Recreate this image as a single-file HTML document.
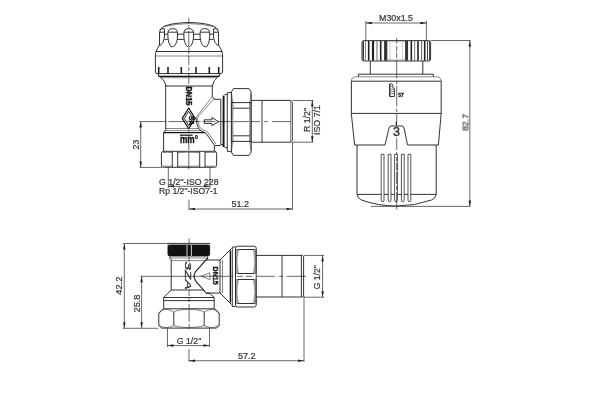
<!DOCTYPE html>
<html><head><meta charset="utf-8"><title>Valve drawing</title>
<style>
html,body{margin:0;padding:0;background:#fff;}
body{width:600px;height:400px;overflow:hidden;}
svg{display:block}
svg line,svg path,svg rect,svg circle,svg ellipse,svg polyline{fill:none;stroke:#1c1c1c;stroke-width:.9;stroke-linecap:butt;stroke-linejoin:round}
svg .h{stroke:#111;stroke-width:1.2}
svg .d{stroke:#2a2a2a;stroke-width:.7}
svg .c{stroke:#2a2a2a;stroke-width:.7;stroke-dasharray:16 2.5 3 2.5}
svg .t{stroke-width:.6;stroke:#333}
svg .f{stroke-width:.5;stroke:#999}
svg .k{fill:#111;stroke:#111}
svg .w{stroke:#fff;stroke-width:.8}
svg .ah{fill:#222;stroke:none}
svg .tx{opacity:.999}
svg text{font-family:"Liberation Sans",sans-serif;fill:#333;stroke:#333;stroke-width:.2}
svg .b{font-weight:bold;fill:#111;stroke:#111;stroke-width:.35}
svg .bi{font-style:italic;fill:#333;stroke:#333;stroke-width:.3}
</style></head><body>
<svg width="600" height="400" viewBox="0 0 600 400">
<path d="M188.8,17.9 L188.8,23.5 M188.8,25 L188.8,29 M188.8,31.4 L188.8,46 M188.8,48 L188.8,54 M188.8,55.5 L188.8,65 M188.8,67 L188.8,71 M188.8,73 L188.8,84 M188.8,86 L188.8,106 M188.8,130 L188.8,133 M188.8,135 L188.8,137 M188.8,139 L188.8,150 M188.8,152 L188.8,169.3" class="d"/>
<line x1="139.5" y1="121.6" x2="231" y2="121.6" class="d" stroke-dasharray="27 2 16 2 14 2 13 2"/>
<path d="M232,121.6 L260,121.6 M264,121.6 L268,121.6 M272,121.6 L290.5,121.6" class="d"/>
<path d="M159.5,45 L159.5,33 Q159.6,29.6 162,27.6 Q165,25.3 172,24 Q180,22.6 189,22.5 Q198,22.6 206,24 Q213,25.3 216,27.6 Q218.4,29.6 218.5,33 L218.5,45"/>
<path d="M164.5,26.6 Q176,23.6 189,23.6 Q202,23.6 213.5,26.6" class="t"/>
<path d="M159.5,45 Q157.5,48 156,51.5 M218.5,45 Q220.5,48 222,51.5"/>
<path d="M167.89999999999998,33 Q167.89999999999998,28.6 172.7,28.6 Q177.5,28.6 177.5,33 L177.5,37 Q177.0,44 173.6,46.4 Q172.1,47.4 170.6,46.4 Q168.39999999999998,44 167.89999999999998,37 Z"/>
<path d="M168.2,32.2 L177.2,32.2"/>
<path d="M183.89999999999998,33 Q183.89999999999998,28.6 188.7,28.6 Q193.5,28.6 193.5,33 L193.5,37 Q193.0,44 190.2,46.4 Q188.7,47.4 187.2,46.4 Q184.39999999999998,44 183.89999999999998,37 Z"/>
<path d="M184.2,32.2 L193.2,32.2"/>
<path d="M200.1,33 Q200.1,28.6 204.9,28.6 Q209.70000000000002,28.6 209.70000000000002,33 L209.70000000000002,37 Q209.20000000000002,44 207.0,46.4 Q205.5,47.4 204.0,46.4 Q200.6,44 200.1,37 Z"/>
<path d="M200.4,32.2 L209.4,32.2"/>
<path d="M159.8,30 Q160.5,28.8 162,28.7 L164.4,28.8 L164.5,37 Q164,43 159.8,46"/>
<path d="M218.2,30 Q217.5,28.8 216,28.7 L213.6,28.8 L213.5,37 Q214,43 218.2,46"/>
<line x1="160" y1="32.2" x2="164.4" y2="32.2"/>
<line x1="213.6" y1="32.2" x2="218" y2="32.2"/>
<line x1="164.5" y1="34.2" x2="167.9" y2="34.2"/>
<line x1="164.5" y1="39.4" x2="167.9" y2="39.4"/>
<line x1="177.5" y1="34.2" x2="183.9" y2="34.2"/>
<line x1="177.5" y1="39.4" x2="183.9" y2="39.4"/>
<line x1="193.5" y1="34.2" x2="200.1" y2="34.2"/>
<line x1="193.5" y1="39.4" x2="200.1" y2="39.4"/>
<line x1="209.7" y1="34.2" x2="213.5" y2="34.2"/>
<line x1="209.7" y1="39.4" x2="213.5" y2="39.4"/>
<line x1="156" y1="51.5" x2="222" y2="51.5"/>
<line x1="155.5" y1="56" x2="222.5" y2="56" class='t'/>
<path d="M156,51.5 Q155.4,53 155.4,56 L155.4,72 M222,51.5 Q222.6,53 222.6,56 L222.6,72"/>
<path d="M155.5,72 Q155.6,73.6 157,73.6 L221,73.6 Q222.4,73.6 222.5,72"/>
<line x1="158.7" y1="67" x2="158.7" y2="73.4" style="stroke-width:1.5;stroke:#111"/>
<line x1="168" y1="67" x2="168" y2="73.4" style="stroke-width:1.5;stroke:#111"/>
<line x1="181.3" y1="67" x2="181.3" y2="73.4" style="stroke-width:1.5;stroke:#111"/>
<line x1="196" y1="67" x2="196" y2="73.4" style="stroke-width:1.5;stroke:#111"/>
<line x1="209.3" y1="67" x2="209.3" y2="73.4" style="stroke-width:1.5;stroke:#111"/>
<line x1="218.7" y1="67" x2="218.7" y2="73.4" style="stroke-width:1.5;stroke:#111"/>
<line x1="158.6" y1="76.3" x2="219.4" y2="76.3" class='h'/>
<path d="M158.6,73.6 L158.6,76.3 M159.5,76.3 Q164.5,79.5 166,85.7 M219.4,73.6 L219.4,76.3 M218.5,76.3 Q213.5,79.5 212.5,85.7"/>
<line x1="161" y1="77.7" x2="217" y2="77.7" class='t'/>
<line x1="165.7" y1="85" x2="165.7" y2="129.3"/>
<line x1="212.3" y1="85" x2="212.3" y2="96.5"/>
<line x1="165.7" y1="86" x2="212.3" y2="86"/>
<line x1="165.7" y1="128.5" x2="199" y2="128.5" class='t'/>
<path d="M212.3,96.5 L214.3,99.3 L220.8,99.3"/>
<path d="M212.3,96.7 L196,117.4 M214,98.6 L197.4,117.6" class="t"/>
<path d="M196,117.4 Q196.4,124 198.6,128.6 Q200.5,131.4 205.7,133 L214.6,145.5 L220.8,145.5"/>
<path d="M197.4,117.6 Q197.8,123.5 200,127.6 Q202,130 207,131.4 L216,144" class="t"/>
<path d="M165.7,129.3 L165.7,130.6 Q164,131 163.6,132.6 L163.6,151.3"/>
<line x1="163.6" y1="132.6" x2="205" y2="132.6" class='h'/>
<line x1="164.8" y1="130.6" x2="201.5" y2="130.6" class='t'/>
<line x1="214.3" y1="145.5" x2="214.3" y2="151.3"/>
<path d="M204.4,119.8 L211.8,119.8 L211.8,117.6 L218.6,121.6 L211.8,125.7 L211.8,123.4 L204.4,123.4 Z"/>
<path d="M188.7,108 L195,118.4 L188.7,128.8 L182.3,118.4 Z" class="h"/>
<path d="M188.7,111.2 L193,118.4 L188.7,125.6 L184.4,118.4 Z"/>
<line x1="180" y1="135.2" x2="192.6" y2="135.2" class='h'/>
<line x1="220.8" y1="99.3" x2="220.8" y2="144.6"/>
<line x1="220.8" y1="144.6" x2="223" y2="144.6"/>
<line x1="223.6" y1="95.6" x2="223.6" y2="147" style="stroke:#111;stroke-width:1.9"/>
<path d="M224.5,94.6 L227.3,94.6 L227.3,151.4 L231.4,151.4 M227.3,92.6 L231.4,92.6 M227.3,92.6 L227.3,94.6 M224.5,147.6 L227.3,147.6"/>
<path d="M231.4,102.6 L233.2,102.6 Q232.4,122 233.2,141.4 L231.4,141.4 Z M251.2,102.6 L249.4,102.6 Q250.2,122 249.4,141.4 L251.2,141.4 Z" style="fill:#aaa;stroke:#555;stroke-width:.5"/>
<path d="M233.4,88.6 L249,88.6 L251.2,92 L251.2,152 L249,155.4 L233.4,155.4 L231.4,152 L231.4,92 Z"/>
<path d="M231.6,93 Q231.8,98 233,102.6 M251,93 Q250.8,98 249.6,102.6 M231.6,151 Q231.8,146 233,141.4 M251,151 Q250.8,146 249.6,141.4" class="t"/>
<line x1="231.4" y1="102.6" x2="251.2" y2="102.6"/>
<line x1="231.4" y1="141.4" x2="251.2" y2="141.4"/>
<line x1="233" y1="108.2" x2="249.4" y2="108.2"/>
<line x1="233" y1="135.8" x2="249.4" y2="135.8"/>
<path d="M251.2,100.4 L290.6,100.4 L292.3,102 L292.3,140.6 L290.6,142.2 L251.2,142.2"/>
<line x1="262" y1="100.4" x2="262" y2="142.2"/>
<line x1="290.6" y1="100.4" x2="290.6" y2="142.2" class='t'/>
<line x1="292.5" y1="100.5" x2="313.5" y2="100.5" class='d'/>
<line x1="292.5" y1="142.2" x2="313.5" y2="142.2" class='d'/>
<line x1="312.3" y1="100.5" x2="312.3" y2="142.2" class='d'/>
<polygon class="ah" points="312.3,100.5 311.05,106.5 313.55,106.5"/>
<polygon class="ah" points="312.3,142.2 311.05,136.2 313.55,136.2"/>
<path d="M163.6,151.3 L214.4,151.3 Q216.6,151.3 216.6,153.5 L216.6,165.1 Q216.6,167.3 214.4,167.3 L163.6,167.3 Q161.4,167.3 161.4,165.1 L161.4,153.5 Q161.4,151.3 163.6,151.3 Z"/>
<line x1="172.3" y1="151.3" x2="172.3" y2="167.3"/>
<line x1="177.7" y1="151.3" x2="177.7" y2="167.3"/>
<line x1="199.7" y1="151.3" x2="199.7" y2="167.3"/>
<line x1="205" y1="151.3" x2="205" y2="167.3"/>
<path d="M163,152.6 Q167,152 172.3,152.6 M177.7,152.6 Q188,151.8 199.7,152.6 M205,152.6 Q210,152 215,152.6" class="t"/>
<path d="M163,166 Q167,166.6 172.3,166 M177.7,166 Q188,166.8 199.7,166 M205,166 Q210,166.6 215,166" class="t"/>
<line x1="139.5" y1="167.4" x2="162" y2="167.4" class='d'/>
<line x1="140.7" y1="121.6" x2="140.7" y2="167.4" class='d'/>
<polygon class="ah" points="140.7,121.6 139.45,127.6 141.95,127.6"/>
<polygon class="ah" points="140.7,167.4 139.45,161.4 141.95,161.4"/>
<line x1="168.3" y1="167" x2="168.3" y2="188" class='d'/>
<line x1="210" y1="167" x2="210" y2="188" class='d'/>
<line x1="168" y1="186.3" x2="210" y2="186.3" class='d'/>
<polygon class="ah" points="168,186.3 174,185.05 174,187.55"/>
<polygon class="ah" points="210,186.3 204,185.05 204,187.55"/>
<line x1="189" y1="199.7" x2="189" y2="210" class='d'/>
<line x1="292.5" y1="142" x2="292.5" y2="210" class='d'/>
<line x1="189" y1="209" x2="292.5" y2="209" class='d'/>
<polygon class="ah" points="189,209 195,207.75 195,210.25"/>
<polygon class="ah" points="292.5,209 286.5,207.75 286.5,210.25"/>
<line x1="365.8" y1="21" x2="365.8" y2="40.5" class='d'/>
<line x1="426.4" y1="21" x2="426.4" y2="40.5" class='d'/>
<line x1="365.8" y1="23" x2="426.4" y2="23" class='d'/>
<polygon class="ah" points="365.8,23 371.8,21.75 371.8,24.25"/>
<polygon class="ah" points="426.4,23 420.4,21.75 420.4,24.25"/>
<line x1="363.3" y1="41" x2="363.3" y2="60.6" style="stroke:#222;stroke-width:1.2"/>
<line x1="365.5" y1="41" x2="365.5" y2="60.6" style="stroke:#555;stroke-width:0.7"/>
<line x1="368.7" y1="41" x2="368.7" y2="60.6" style="stroke:#222;stroke-width:1.6"/>
<line x1="373" y1="41" x2="373" y2="60.6" style="stroke:#222;stroke-width:2.2"/>
<line x1="377" y1="41" x2="377" y2="60.6" style="stroke:#555;stroke-width:0.9"/>
<line x1="380.7" y1="41" x2="380.7" y2="60.6" style="stroke:#222;stroke-width:1.6"/>
<line x1="385.7" y1="41" x2="385.7" y2="60.6" style="stroke:#333;stroke-width:3.2"/>
<line x1="406.6" y1="41" x2="406.6" y2="60.6" style="stroke:#333;stroke-width:3.0"/>
<line x1="411.3" y1="41" x2="411.3" y2="60.6" style="stroke:#222;stroke-width:1.6"/>
<line x1="414.7" y1="41" x2="414.7" y2="60.6" style="stroke:#555;stroke-width:0.8"/>
<line x1="418" y1="41" x2="418" y2="60.6" style="stroke:#222;stroke-width:1.6"/>
<line x1="421.6" y1="41" x2="421.6" y2="60.6" style="stroke:#555;stroke-width:0.9"/>
<line x1="424.7" y1="41" x2="424.7" y2="60.6" style="stroke:#222;stroke-width:1.6"/>
<line x1="427.5" y1="41" x2="427.5" y2="60.6" style="stroke:#333;stroke-width:0.9"/>
<line x1="429.5" y1="41" x2="429.5" y2="60.6" style="stroke:#333;stroke-width:0.9"/>
<line x1="390" y1="42" x2="390" y2="59.6" class='f'/>
<line x1="402.3" y1="42" x2="402.3" y2="59.6" class='f'/>
<line x1="388" y1="41.8" x2="405" y2="41.8" class='f'/>
<line x1="388" y1="59.4" x2="405" y2="59.4" class='f'/>
<path d="M364,40.6 L428.6,40.6 Q430.6,40.6 430.6,42.6 L430.6,59 Q430.6,61 428.6,61 L364,61 Q362,61 362,59 L362,42.6 Q362,40.6 364,40.6 Z"/>
<line x1="370.3" y1="61.2" x2="370.3" y2="74.2"/>
<line x1="422.8" y1="61.2" x2="422.8" y2="74.2"/>
<path d="M358.5,76.7 L358.5,74.2 L433.3,74.2 L433.3,76.7"/>
<path d="M351.4,113.4 L351.4,81.2 M441.2,81.2 L441.2,113.4"/>
<path d="M351.4,81.2 Q351.6,76.8 356,76.8 L436.6,76.8 Q441,76.8 441.2,81.2" class="t"/>
<line x1="351.3" y1="81.2" x2="441.2" y2="81.2"/>
<line x1="351.3" y1="113.4" x2="441.2" y2="113.4"/>
<path d="M351.3,113.4 L354.6,145 L385,145 L389,128 Q389.5,126 391.5,126 L401.5,126 Q403.5,126 404,128 L407.6,145 L438.4,145 L441.2,113.4"/>
<line x1="396.4" y1="121.5" x2="396.4" y2="125.5" style="stroke-width:1.3"/>
<line x1="389.8" y1="84" x2="389.8" y2="96.8" style="stroke:#111;stroke-width:1.3"/>
<path d="M389.8,84 L391.6,83.8 Q392.8,84 392.8,85.6 L392.8,87.6 L394.4,88.6 L394.4,96.4 L389.8,96.6"/>
<path d="M391,86.4 L392.6,86.4 M391,89.2 L394,89.2 M391,91.4 L394,91.4 M391,93.6 L394,93.6" class="t"/>
<path d="M357,145 L357,194.4 Q357.6,198.6 361.5,200 Q378,206 396.6,206 Q415,206 431.5,200 Q435.6,198.6 436.2,194.4 L436.2,145"/>
<line x1="357" y1="194.4" x2="436.2" y2="194.4"/>
<path d="M381.20000000000005,154.3 L381.20000000000005,200 Q381.20000000000005,201.8 382.6,201.8 Q384.0,201.8 384.0,200 L384.0,154.3 Z" style="fill:#fff;stroke-width:.75"/>
<path d="M388.20000000000005,154.3 L388.20000000000005,200 Q388.20000000000005,201.8 389.6,201.8 Q391.0,201.8 391.0,200 L391.0,154.3 Z" style="fill:#fff;stroke-width:.75"/>
<path d="M394.6,154.3 L394.6,200 Q394.6,201.8 396,201.8 Q397.4,201.8 397.4,200 L397.4,154.3 Z" style="fill:#fff;stroke-width:.75"/>
<path d="M401.40000000000003,154.3 L401.40000000000003,200 Q401.40000000000003,201.8 402.8,201.8 Q404.2,201.8 404.2,200 L404.2,154.3 Z" style="fill:#fff;stroke-width:.75"/>
<path d="M408.0,154.3 L408.0,200 Q408.0,201.8 409.4,201.8 Q410.79999999999995,201.8 410.79999999999995,200 L410.79999999999995,154.3 Z" style="fill:#fff;stroke-width:.75"/>
<path d="M396.7,37.9 L396.7,43.5 M396.7,45.8 L396.7,51.4 M396.7,52.5 L396.7,58 M396.7,60 L396.7,78 M396.7,80.7 L396.7,84 M396.7,85.5 L396.7,106.5 M396.7,108.5 L396.7,112 M396.7,114 L396.7,121.5 M396.7,138 L396.7,150 M396.7,152 L396.7,155 M396.7,157 L396.7,161 M396.7,163 L396.7,170 M396.7,172 L396.7,184 M396.7,186 L396.7,190 M396.7,192 L396.7,209.5" class="d"/>
<line x1="430.6" y1="40.5" x2="470.5" y2="40.5" class='d'/>
<line x1="371" y1="206.4" x2="470.5" y2="206.4" class='d'/>
<line x1="469.8" y1="40.5" x2="469.8" y2="206.4" class='d'/>
<polygon class="ah" points="469.8,40.5 468.55,46.5 471.05,46.5"/>
<polygon class="ah" points="469.8,206.4 468.55,200.4 471.05,200.4"/>
<path d="M189.1,238.5 L189.1,243.4 M189.1,257 L189.1,262 M189.1,264 L189.1,268 M189.1,290 L189.1,296 M189.1,298 L189.1,302 M189.1,304 L189.1,322 M189.1,324 L189.1,329" class="d"/>
<line x1="140.5" y1="276.3" x2="233" y2="276.3" class='d'/>
<path d="M237,276.3 L243,276.3 M246,276.3 L252,276.3 M256.5,276.3 L275,276.3 M279,276.3 L283,276.3 M286.5,276.3 L306,276.3" class="d"/>
<path d="M169.8,245 L207.8,245 Q209.6,245 209.6,246.8 L209.6,254.2 Q209.6,256 207.8,256 L169.8,256 Q168,256 168,254.2 L168,246.8 Q168,245 169.8,245 Z" class="k"/>
<line x1="187" y1="245" x2="187" y2="256" class='w'/>
<line x1="191.4" y1="245" x2="191.4" y2="256" class='w'/>
<line x1="168" y1="243.4" x2="209.8" y2="243.4"/>
<path d="M168,243.4 L168,246 M209.8,243.4 L209.8,246" class="t"/>
<line x1="169.5" y1="258" x2="208" y2="258" class='t'/>
<line x1="170" y1="256.6" x2="170" y2="259"/>
<line x1="207.6" y1="256.6" x2="207.6" y2="259.6"/>
<line x1="171.2" y1="259" x2="171.2" y2="290"/>
<line x1="171.2" y1="260.6" x2="207" y2="260.6" class='t'/>
<line x1="171.2" y1="290" x2="204" y2="290"/>
<path d="M171.2,290 L163.7,297.5 L163.7,308.8"/>
<path d="M207,293 L210,293.6 L214.2,297.5 L214.2,308.8"/>
<line x1="163.7" y1="297.5" x2="214.2" y2="297.5"/>
<line x1="163.7" y1="300.6" x2="214.2" y2="300.6"/>
<path d="M207,258.6 L198.6,268.4 Q189.6,276.3 198.6,284.4 L207,294" style="stroke-width:1.1"/>
<path d="M207,260 L220,260 M207,293 L220,293"/>
<path d="M201,276.2 L209.9,272.8 L209.9,279.6 Z" class="t"/>
<path d="M220,260 L231.6,248.4 M220,293 L231.6,304.6"/>
<line x1="220" y1="260" x2="220" y2="293"/>
<line x1="222.5" y1="260" x2="222.5" y2="293" class='t'/>
<line x1="230.4" y1="250.6" x2="230.4" y2="302.4" style="stroke:#111;stroke-width:1.4"/>
<path d="M232.3,247 L232.3,306.5 L235.5,306.5 M232.3,247 L235.5,247"/>
<path d="M235.5,249.5 L238.5,249.5 Q235.4,261.5 238.5,273.5 L235.5,273.5 Z M256.2,249.5 L253.5,249.5 Q256.4,261.5 253.5,273.5 L256.2,273.5 Z M235.5,279.5 L238.5,279.5 Q235.4,291.5 238.5,303.5 L235.5,303.5 Z M256.2,279.5 L253.5,279.5 Q256.4,291.5 253.5,303.5 L256.2,303.5 Z" style="fill:#aaa;stroke:#444;stroke-width:.5"/>
<path d="M237.5,246.2 L254.2,246.2 Q256.2,246.2 256.2,248.2 L256.2,305 Q256.2,307 254.2,307 L237.5,307 Q235.5,307 235.5,305 L235.5,248.2 Q235.5,246.2 237.5,246.2 Z"/>
<line x1="238" y1="249.5" x2="254" y2="249.5"/>
<line x1="238" y1="273.5" x2="254" y2="273.5"/>
<line x1="238" y1="279.5" x2="254" y2="279.5"/>
<line x1="238" y1="303.5" x2="254" y2="303.5"/>
<path d="M256.2,255.4 L302.6,255.4 L303.6,256.4 L303.6,296 L302.6,297 L256.2,297"/>
<line x1="282" y1="255.4" x2="282" y2="297"/>
<line x1="301.4" y1="255.4" x2="301.4" y2="297"/>
<line x1="304" y1="255.4" x2="324" y2="255.4" class='d'/>
<line x1="304" y1="297.2" x2="324" y2="297.2" class='d'/>
<line x1="322.6" y1="255.4" x2="322.6" y2="297.2" class='d'/>
<polygon class="ah" points="322.6,255.4 321.35,261.4 323.85,261.4"/>
<polygon class="ah" points="322.6,297.2 321.35,291.2 323.85,291.2"/>
<path d="M163.2,308.8 L214.8,308.8 L219.2,313 L219.2,325.4 L216.6,328.1 L161.4,328.1 L158.8,325.4 L158.8,313 Z"/>
<path d="M158.8,313.4 Q162,309.6 166,309.2 Q170,309.6 173.8,312 Q179,309.4 188.8,309.2 Q199,309.4 204.2,312 Q208,309.6 212,309.2 Q216,309.6 219.2,313.4" class="t"/>
<path d="M158.8,325 Q162,327.4 166,327.7 Q170,327.4 173.8,325.6 Q179,327.5 188.8,327.7 Q199,327.5 204.2,325.6 Q208,327.4 212,327.7 Q216,327.4 219.2,325" class="t"/>
<line x1="173.8" y1="312" x2="173.8" y2="325.6"/>
<line x1="204.2" y1="312" x2="204.2" y2="325.6"/>
<line x1="123" y1="243.5" x2="168" y2="243.5" class='d'/>
<line x1="123" y1="328.3" x2="158.5" y2="328.3" class='d'/>
<line x1="124.3" y1="243.5" x2="124.3" y2="328.3" class='d'/>
<polygon class="ah" points="124.3,243.5 123.05,249.5 125.55,249.5"/>
<polygon class="ah" points="124.3,328.3 123.05,322.3 125.55,322.3"/>
<line x1="141.6" y1="276.3" x2="141.6" y2="328.3" class='d'/>
<polygon class="ah" points="141.6,276.3 140.35,282.3 142.85,282.3"/>
<polygon class="ah" points="141.6,328.3 140.35,322.3 142.85,322.3"/>
<line x1="167.5" y1="328.3" x2="167.5" y2="347" class='d'/>
<line x1="209.5" y1="328.3" x2="209.5" y2="347" class='d'/>
<line x1="167.5" y1="345.6" x2="209.5" y2="345.6" class='d'/>
<polygon class="ah" points="167.5,345.6 173.5,344.35 173.5,346.85"/>
<polygon class="ah" points="209.5,345.6 203.5,344.35 203.5,346.85"/>
<line x1="189" y1="349" x2="189" y2="362" class='d'/>
<line x1="304" y1="296" x2="304" y2="362" class='d'/>
<line x1="189" y1="360.7" x2="304" y2="360.7" class='d'/>
<polygon class="ah" points="189,360.7 195,359.45 195,361.95"/>
<polygon class="ah" points="304,360.7 298,359.45 298,361.95"/>
<g class="tx">
<text x="188.7" y="120.6" font-size="6.5" text-anchor="middle" transform="rotate(90 188.7 120.6)" class="b">SA</text>
<text x="185.6" y="96" font-size="8.4" text-anchor="middle" transform="rotate(90 185.6 96)" class="b" textLength="19" lengthAdjust="spacingAndGlyphs">DN15</text>
<text x="189" y="142.5" font-size="11" text-anchor="middle" class="b" textLength="18" lengthAdjust="spacingAndGlyphs">mm°</text>
<text x="310.2" y="120" font-size="8.3" text-anchor="middle" transform="rotate(-90 310.2 120)" textLength="24" lengthAdjust="spacingAndGlyphs">R 1/2&quot;</text>
<text x="320.3" y="120" font-size="8.3" text-anchor="middle" transform="rotate(-90 320.3 120)" textLength="30" lengthAdjust="spacingAndGlyphs">ISO 7/1</text>
<text x="139" y="144.6" font-size="8.3" text-anchor="middle" transform="rotate(-90 139 144.6)" textLength="9.8" lengthAdjust="spacingAndGlyphs">23</text>
<text x="188.8" y="184.7" font-size="8.3" text-anchor="middle" textLength="59.5" lengthAdjust="spacingAndGlyphs">G 1/2&quot;-ISO 228</text>
<text x="188.3" y="194.2" font-size="8.3" text-anchor="middle" textLength="58.5" lengthAdjust="spacingAndGlyphs">Rp 1/2&quot;-ISO7-1</text>
<text x="240.3" y="207" font-size="8.3" text-anchor="middle" textLength="17.6" lengthAdjust="spacingAndGlyphs">51.2</text>
<text x="396" y="21" font-size="8.3" text-anchor="middle" textLength="34" lengthAdjust="spacingAndGlyphs">M30x1.5</text>
<text x="396.6" y="136.3" font-size="12.5" text-anchor="middle" style="stroke:#333;stroke-width:.4">3</text>
<text x="400.9" y="96.5" font-size="6.2" text-anchor="middle" class="b" style="stroke:#111;stroke-width:.3" textLength="5.4" lengthAdjust="spacingAndGlyphs">57</text>
<text x="468" y="122.5" font-size="8.3" text-anchor="middle" transform="rotate(-90 468 122.5)" textLength="17.2" lengthAdjust="spacingAndGlyphs">82.7</text>
<text x="184.9" y="275.6" font-size="9.5" text-anchor="middle" transform="rotate(90 184.9 275.6)" class="bi" textLength="28" lengthAdjust="spacingAndGlyphs">3ZA</text>
<text x="212.7" y="275.6" font-size="7.6" text-anchor="middle" transform="rotate(90 212.7 275.6)" class="b" textLength="18" lengthAdjust="spacingAndGlyphs">DN15</text>
<text x="320.4" y="277.2" font-size="8.3" text-anchor="middle" transform="rotate(-90 320.4 277.2)" textLength="24" lengthAdjust="spacingAndGlyphs">G 1/2&quot;</text>
<text x="122.5" y="285.7" font-size="8.3" text-anchor="middle" transform="rotate(-90 122.5 285.7)" textLength="18" lengthAdjust="spacingAndGlyphs">42.2</text>
<text x="139.8" y="303.5" font-size="8.3" text-anchor="middle" transform="rotate(-90 139.8 303.5)" textLength="18" lengthAdjust="spacingAndGlyphs">25.8</text>
<text x="189" y="343.5" font-size="8.3" text-anchor="middle" textLength="24.5" lengthAdjust="spacingAndGlyphs">G 1/2&quot;</text>
<text x="246.7" y="358.7" font-size="8.3" text-anchor="middle" textLength="17.6" lengthAdjust="spacingAndGlyphs">57.2</text>
</g>
</svg>
</body></html>
